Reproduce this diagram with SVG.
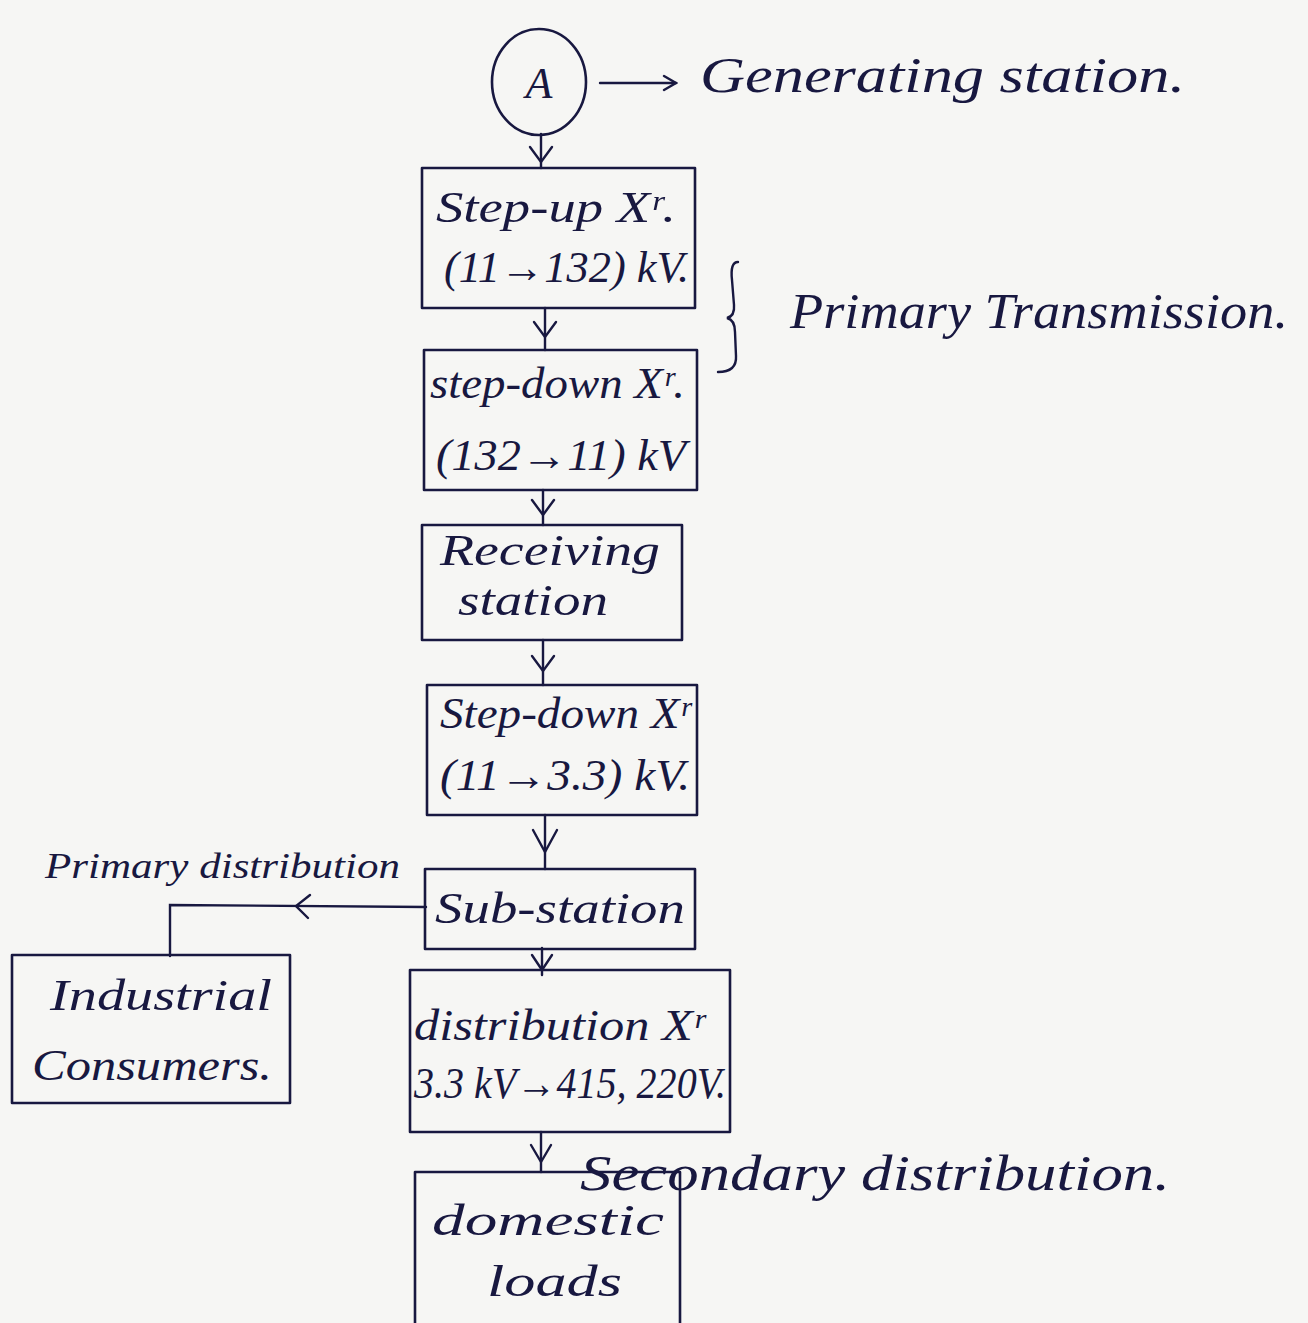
<svg xmlns="http://www.w3.org/2000/svg" width="1308" height="1323" viewBox="0 0 1308 1323">
<style>
.bg{fill:#f6f6f4}
.box{fill:none;stroke:#181840;stroke-width:2.6;stroke-linejoin:round}
.ln{fill:none;stroke:#181840;stroke-width:2.4;stroke-linecap:round}
.t{font-family:"Liberation Serif",serif;font-style:italic;fill:#181840}
.big{font-size:50px}
.mid{font-size:44px}
.sm{font-size:36px}
</style>
<defs>
<marker id="v" viewBox="0 0 20 20" refX="18" refY="10" markerWidth="20" markerHeight="20" markerUnits="userSpaceOnUse" orient="auto">
<polyline points="6,3 18,10 6,17" fill="none" stroke="#181840" stroke-width="2.4" stroke-linecap="round"/>
</marker>
</defs>
<rect class="bg" x="0" y="0" width="1308" height="1323"/>

<g id="connectors">
<line class="ln" x1="600" y1="83" x2="676" y2="83" marker-end="url(#v)"/>
<line class="ln" x1="541" y1="134" x2="541" y2="168"/>
<polyline class="ln" points="530,147 541,162 552,147"/>
<line class="ln" x1="545" y1="308" x2="545" y2="350"/>
<polyline class="ln" points="534,322 545,337 556,322"/>
<line class="ln" x1="543" y1="490" x2="543" y2="525"/>
<polyline class="ln" points="532,500 543,515 554,500"/>
<line class="ln" x1="543" y1="640" x2="543" y2="685"/>
<polyline class="ln" points="532,656 543,671 554,656"/>
<line class="ln" x1="545" y1="815" x2="545" y2="869"/>
<polyline class="ln" points="533,830 545,852 557,830"/>
<polyline class="ln" points="426,907 170,905 170,956"/>
<polyline class="ln" points="310,895 296,906 308,918"/>
<line class="ln" x1="542" y1="948" x2="542" y2="975"/>
<polyline class="ln" points="532,955 542,970 552,955"/>
<line class="ln" x1="541" y1="1132" x2="541" y2="1172"/>
<polyline class="ln" points="531,1145 541,1162 551,1145"/>
<path class="ln" d="M738,262 Q730,262 732,280 L734,305 Q735,316 727,318 Q735,320 735,332 L736,356 Q737,372 718,372"/>
</g>

<g id="generating">
<ellipse class="box" cx="539" cy="82" rx="47" ry="53"/>
<text class="t" x="539" y="98" font-size="44" text-anchor="middle" font-style="normal" font-family="Liberation Sans, sans-serif">A</text>
<text class="t big" x="700" y="92" textLength="485" lengthAdjust="spacingAndGlyphs">Generating station.</text>
</g>

<g id="stepup">
<rect class="box" x="422" y="168" width="273" height="140"/>
<text class="t mid" x="436" y="222" textLength="240" lengthAdjust="spacingAndGlyphs">Step-up Xʳ.</text>
<text class="t mid" x="444" y="282" textLength="245" lengthAdjust="spacingAndGlyphs">(11→132) kV.</text>
</g>

<g id="stepdown1">
<rect class="box" x="424" y="350" width="273" height="140"/>
<text class="t mid" x="430" y="398" textLength="255" lengthAdjust="spacingAndGlyphs">step-down Xʳ.</text>
<text class="t mid" x="436" y="470" textLength="250" lengthAdjust="spacingAndGlyphs">(132→11) kV</text>
</g>

<g id="primary-transmission">
<text class="t big" x="790" y="328" textLength="498" lengthAdjust="spacingAndGlyphs">Primary Transmission.</text>
</g>

<g id="receiving">
<rect class="box" x="422" y="525" width="260" height="115"/>
<text class="t mid" x="440" y="565" textLength="220" lengthAdjust="spacingAndGlyphs">Receiving</text>
<text class="t mid" x="458" y="615" textLength="150" lengthAdjust="spacingAndGlyphs">station</text>
</g>

<g id="stepdown2">
<rect class="box" x="427" y="685" width="270" height="130"/>
<text class="t mid" x="440" y="728" textLength="250" lengthAdjust="spacingAndGlyphs">Step-down Xʳ</text>
<text class="t mid" x="440" y="790" textLength="250" lengthAdjust="spacingAndGlyphs">(11→3.3) kV.</text>
</g>

<g id="substation">
<rect class="box" x="425" y="869" width="270" height="80"/>
<text class="t mid" x="435" y="923" textLength="250" lengthAdjust="spacingAndGlyphs">Sub-station</text>
</g>

<g id="primary-distribution">
<text class="t sm" x="45" y="878" textLength="355" lengthAdjust="spacingAndGlyphs">Primary distribution</text>
</g>

<g id="industrial">
<rect class="box" x="12" y="955" width="278" height="148"/>
<text class="t mid" x="50" y="1010" textLength="222" lengthAdjust="spacingAndGlyphs">Industrial</text>
<text class="t mid" x="32" y="1080" textLength="240" lengthAdjust="spacingAndGlyphs">Consumers.</text>
</g>

<g id="distribution">
<rect class="box" x="410" y="970" width="320" height="162"/>
<text class="t mid" x="414" y="1040" textLength="290" lengthAdjust="spacingAndGlyphs">distribution Xʳ</text>
<text class="t mid" x="414" y="1098" textLength="312" lengthAdjust="spacingAndGlyphs">3.3 kV→415, 220V.</text>
</g>

<g id="secondary-distribution">
<text class="t big" x="580" y="1190" textLength="590" lengthAdjust="spacingAndGlyphs">Secondary distribution.</text>
</g>

<g id="domestic">
<rect class="box" x="415" y="1172" width="265" height="160"/>
<text class="t mid" x="432" y="1235" textLength="232" lengthAdjust="spacingAndGlyphs">domestic</text>
<text class="t mid" x="487" y="1296" textLength="135" lengthAdjust="spacingAndGlyphs">loads</text>
</g>
</svg>
